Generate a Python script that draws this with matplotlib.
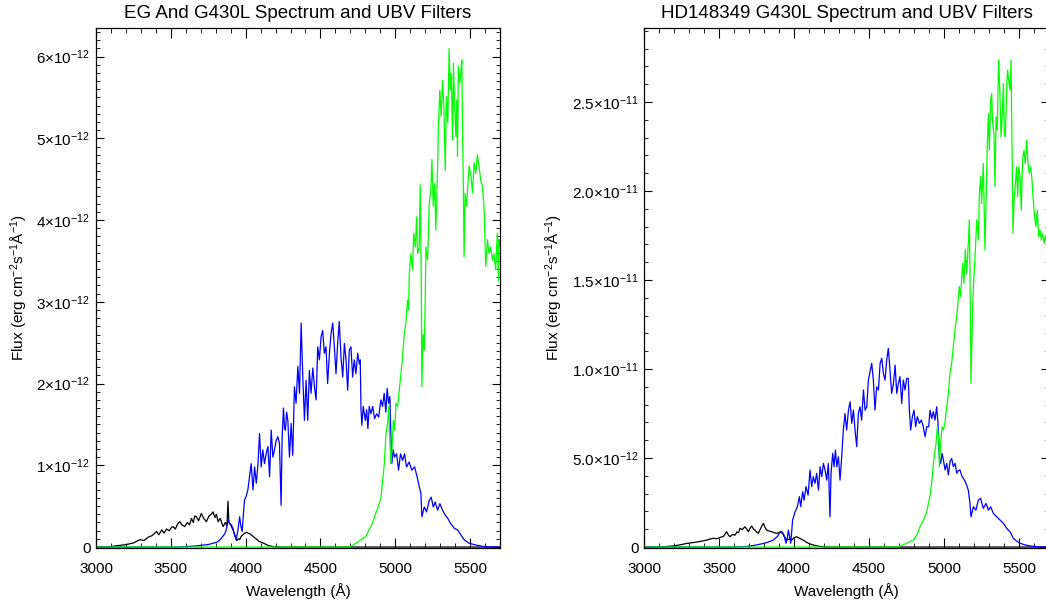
import numpy as np
import matplotlib
matplotlib.use("Agg")
import matplotlib.pyplot as plt
from matplotlib.ticker import MultipleLocator, FixedLocator, FuncFormatter

plt.rcParams['font.family'] = ['Liberation Sans', 'DejaVu Sans']
plt.rcParams['mathtext.fontset'] = 'custom'
plt.rcParams['mathtext.rm'] = 'Liberation Sans'
plt.rcParams['mathtext.it'] = 'Liberation Sans:italic'
plt.rcParams['mathtext.bf'] = 'Liberation Sans:bold'
plt.rcParams['axes.unicode_minus'] = False

SCALE = 1e-12  # fluxes below are in units of 1e-12 erg/cm2/s/A

# ---- EG And : spectrum x U, B, V filters ----
eg_u_wave = [3000, 3080, 3116, 3160, 3204, 3250, 3293, 3320, 3349, 3375, 3404, 3420, 3440, 3455,
             3471, 3490, 3505, 3516, 3530, 3545, 3560, 3575, 3593, 3610, 3625, 3638, 3650, 3660,
             3671, 3685, 3704, 3720, 3738, 3755, 3770, 3782, 3795, 3805, 3816, 3830, 3849, 3865,
             3875, 3882, 3888, 3900, 3916, 3930, 3940, 3950, 3960, 3970, 3982, 3995, 4005, 4016,
             4030, 4049, 4070, 4090, 4116, 4150, 4182, 4220, 5700]
eg_u_flux = [0, 0, 0.01, 0.02, 0.03, 0.05, 0.09, 0.08, 0.12, 0.14, 0.19, 0.15, 0.21, 0.17,
             0.22, 0.20, 0.24, 0.25, 0.22, 0.28, 0.31, 0.27, 0.25, 0.30, 0.27, 0.35, 0.30, 0.38,
             0.37, 0.32, 0.41, 0.35, 0.31, 0.38, 0.40, 0.43, 0.36, 0.40, 0.31, 0.35, 0.25, 0.30,
             0.26, 0.56, 0.30, 0.27, 0.21, 0.14, 0.08, 0.10, 0.09, 0.13, 0.15, 0.17, 0.18, 0.17,
             0.16, 0.13, 0.10, 0.07, 0.05, 0.02, 0.005, 0, 0]

eg_b_wave = [3000, 3550, 3600, 3650, 3700, 3750, 3780, 3810, 3830, 3847, 3860, 3872, 3882, 3893,
             3905, 3915, 3925, 3937, 3948, 3960, 3968, 3977, 3985, 3993, 4004, 4015, 4026, 4037,
             4049, 4060, 4071, 4082, 4093, 4104, 4115, 4126, 4138, 4149, 4160, 4171, 4182, 4193,
             4204, 4215, 4226, 4237, 4244, 4253, 4260, 4266, 4274, 4282, 4293, 4304, 4315, 4326,
             4337, 4349, 4360, 4371, 4382, 4393, 4404, 4415, 4426, 4437, 4449, 4460, 4471, 4482,
             4493, 4504, 4515, 4526, 4537, 4548, 4560, 4571, 4582, 4593, 4604, 4615, 4626, 4637,
             4649, 4660, 4671, 4682, 4693, 4704, 4715, 4726, 4737, 4749, 4760, 4766, 4771, 4777,
             4786, 4800, 4809, 4817, 4826, 4837, 4849, 4862, 4875, 4889, 4904, 4915, 4926, 4937,
             4946, 4955, 4964, 4971, 4977, 4986, 4995, 5009, 5022, 5035, 5049, 5062, 5075, 5093,
             5111, 5129, 5146, 5160, 5171, 5178, 5194, 5209, 5227, 5240, 5254, 5267, 5283, 5298,
             5316, 5334, 5351, 5369, 5394, 5416, 5438, 5460, 5494, 5538, 5594, 5650, 5700]
eg_b_flux = [0, 0, 0.005, 0.01, 0.02, 0.03, 0.045, 0.06, 0.09, 0.13, 0.16, 0.22, 0.33, 0.29,
             0.27, 0.23, 0.15, 0.09, 0.20, 0.37, 0.26, 0.19, 0.40, 0.58, 0.62, 0.70, 0.86, 1.02,
             0.70, 0.98, 0.78, 1.00, 1.39, 0.98, 1.19, 1.02, 1.15, 1.23, 0.86, 1.43, 1.10, 1.19,
             1.30, 1.35, 1.27, 0.51, 1.35, 1.70, 1.45, 1.43, 1.65, 1.55, 1.10, 1.51, 1.12, 1.96,
             1.76, 2.21, 1.88, 2.74, 2.08, 1.55, 2.04, 1.55, 2.16, 1.88, 2.19, 1.96, 1.80, 2.45,
             2.29, 2.57, 2.65, 2.37, 2.45, 2.00, 2.37, 2.61, 2.74, 2.45, 2.12, 2.49, 2.76, 2.33,
             2.08, 2.49, 2.29, 1.92, 2.41, 2.45, 2.08, 2.29, 2.12, 2.37, 2.24, 2.29, 1.68, 1.49,
             1.72, 1.55, 1.68, 1.45, 1.72, 1.63, 1.72, 1.57, 1.63, 1.59, 1.80, 1.72, 1.88, 1.65,
             1.94, 1.76, 1.84, 1.35, 1.02, 1.19, 1.10, 1.14, 0.94, 1.14, 1.06, 1.14, 0.98, 1.04,
             0.94, 0.98, 0.86, 0.74, 0.66, 0.37, 0.49, 0.43, 0.57, 0.61, 0.49, 0.55, 0.45, 0.53,
             0.45, 0.39, 0.35, 0.29, 0.23, 0.21, 0.15, 0.09, 0.045, 0.025, 0.004, 0, 0]

eg_v_wave = [3000, 4690, 4715, 4737, 4771, 4804, 4827, 4837, 4855, 4871, 4893, 4905, 4915, 4927,
             4938, 4949, 4956, 4965, 4971, 4978, 4987, 4996, 5005, 5016, 5027, 5038, 5049, 5060,
             5071, 5082, 5089, 5094, 5105, 5116, 5123, 5134, 5143, 5149, 5160, 5167, 5174, 5178,
             5186, 5194, 5200, 5205, 5216, 5227, 5238, 5245, 5254, 5263, 5271, 5283, 5289, 5298,
             5307, 5316, 5325, 5334, 5342, 5351, 5360, 5367, 5374, 5383, 5389, 5396, 5405, 5411,
             5416, 5422, 5431, 5438, 5445, 5449, 5456, 5460, 5467, 5476, 5485, 5494, 5505, 5516,
             5527, 5538, 5549, 5560, 5571, 5583, 5594, 5605, 5616, 5627, 5638, 5649, 5660, 5671,
             5682, 5690, 5693, 5700]
eg_v_flux = [0, 0, 0.02, 0.045, 0.09, 0.13, 0.22, 0.25, 0.33, 0.42, 0.53, 0.61, 0.80, 1.02,
             1.39, 1.51, 1.72, 1.23, 1.02, 1.19, 1.55, 1.43, 1.76, 1.72, 1.92, 2.12, 2.33, 2.61,
             2.74, 3.02, 2.90, 3.35, 3.59, 3.39, 3.84, 3.67, 4.04, 3.59, 3.67, 4.43, 3.23, 1.96,
             2.60, 2.41, 3.00, 3.67, 3.51, 4.21, 4.37, 4.74, 4.17, 4.45, 3.88, 4.66, 5.19, 5.59,
             5.27, 5.71, 5.39, 4.61, 5.51, 5.19, 6.10, 5.59, 5.80, 4.98, 5.92, 5.47, 5.02, 5.47,
             4.78, 5.88, 5.67, 5.80, 5.96, 5.19, 4.25, 3.55, 4.33, 4.17, 4.41, 4.66, 4.57, 4.33,
             4.70, 4.57, 4.80, 4.66, 4.49, 4.41, 4.12, 3.43, 3.76, 3.59, 3.67, 3.51, 3.59, 3.39,
             3.84, 3.26, 3.76, 3.70]

# ---- HD148349 : spectrum x U, B, V filters ----
hd_u_wave = [3000, 3100, 3150, 3196, 3240, 3284, 3320, 3351, 3385, 3418, 3440, 3462, 3485, 3507,
             3530, 3551, 3562, 3573, 3590, 3607, 3620, 3630, 3640, 3655, 3673, 3685, 3696, 3707,
             3718, 3730, 3740, 3750, 3762, 3775, 3787, 3796, 3807, 3818, 3835, 3851, 3868, 3884,
             3900, 3918, 3935, 3951, 3968, 3984, 4000, 4018, 4035, 4051, 4068, 4084, 4105, 4129,
             4160, 4195, 4230, 5700]
hd_u_flux = [0, 0, 0.03, 0.06, 0.12, 0.20, 0.24, 0.28, 0.33, 0.39, 0.45, 0.49, 0.46, 0.54,
             0.60, 0.86, 0.68, 0.58, 0.70, 0.67, 0.85, 0.80, 1.05, 0.98, 1.14, 1.00, 0.86, 1.05,
             1.18, 1.00, 0.95, 0.85, 0.77, 1.00, 1.20, 1.33, 1.10, 0.95, 0.90, 0.86, 0.80, 0.77,
             0.80, 0.86, 0.60, 0.39, 0.45, 0.39, 0.52, 0.58, 0.50, 0.43, 0.35, 0.26, 0.18, 0.11,
             0.05, 0.01, 0, 0]

hd_b_wave = [3000, 3550, 3620, 3684, 3740, 3796, 3830, 3862, 3890, 3907, 3918, 3929, 3947, 3955,
             3963, 3970, 3978, 3991, 4007, 4023, 4036, 4045, 4058, 4067, 4080, 4094, 4107, 4118,
             4129, 4140, 4151, 4163, 4174, 4185, 4196, 4207, 4218, 4229, 4240, 4247, 4258, 4267,
             4276, 4285, 4296, 4307, 4318, 4329, 4340, 4351, 4363, 4374, 4385, 4396, 4407, 4418,
             4429, 4440, 4451, 4463, 4474, 4485, 4496, 4507, 4518, 4529, 4540, 4551, 4563, 4574,
             4585, 4596, 4607, 4618, 4629, 4640, 4651, 4663, 4674, 4685, 4696, 4707, 4718, 4729,
             4740, 4751, 4762, 4769, 4778, 4789, 4800, 4811, 4822, 4836, 4849, 4862, 4874, 4885,
             4898, 4907, 4918, 4929, 4940, 4951, 4960, 4969, 4978, 4987, 4996, 5007, 5018, 5029,
             5040, 5051, 5062, 5074, 5085, 5096, 5107, 5118, 5129, 5140, 5151, 5162, 5173, 5180,
             5196, 5213, 5229, 5244, 5262, 5280, 5296, 5311, 5329, 5351, 5373, 5396, 5418, 5440,
             5462, 5485, 5507, 5540, 5573, 5640, 5700]
hd_b_flux = [0, 0, 0.01, 0.03, 0.10, 0.20, 0.28, 0.39, 0.60, 0.86, 0.80, 0.77, 0.21, 0.50,
             0.95, 0.60, 0.21, 1.52, 1.98, 2.27, 2.83, 2.27, 3.11, 2.64, 3.39, 2.92, 4.33, 3.39,
             3.95, 3.58, 4.14, 3.20, 4.51, 3.95, 4.70, 4.33, 3.76, 4.70, 1.70, 4.14, 5.26, 4.51,
             5.45, 4.51, 5.07, 3.76, 5.07, 6.57, 7.50, 6.57, 7.69, 8.16, 6.95, 7.69, 6.57, 5.64,
             7.50, 7.88, 7.13, 8.82, 7.69, 7.88, 9.38, 9.85, 10.32, 9.38, 7.69, 9.00, 8.82, 10.32,
             10.60, 9.76, 9.38, 10.51, 11.16, 9.94, 8.63, 9.19, 10.22, 8.63, 9.19, 9.57, 8.07, 9.38,
             8.82, 9.47, 9.47, 7.69, 6.57, 7.32, 7.69, 6.76, 7.32, 6.95, 7.13, 6.76, 6.20, 6.76,
             6.76, 7.69, 7.22, 7.60, 7.13, 7.88, 6.95, 5.07, 4.70, 5.26, 4.89, 4.33, 4.70, 4.05,
             4.79, 4.98, 4.51, 4.70, 4.14, 4.30, 4.33, 4.00, 3.86, 3.70, 3.48, 3.20, 2.45, 1.70,
             2.26, 2.07, 2.64, 2.73, 2.17, 2.45, 2.07, 2.26, 1.89, 1.70, 1.52, 1.33, 1.05, 0.86,
             0.49, 0.33, 0.21, 0.12, 0.06, 0, 0]

hd_v_wave = [3000, 4696, 4720, 4751, 4796, 4820, 4840, 4862, 4885, 4905, 4918, 4934, 4947, 4956,
             4965, 4969, 4978, 4987, 4996, 5007, 5018, 5029, 5040, 5051, 5062, 5073, 5085, 5096,
             5102, 5111, 5124, 5133, 5142, 5151, 5162, 5169, 5175, 5180, 5186, 5191, 5196, 5207,
             5218, 5229, 5236, 5244, 5251, 5262, 5273, 5280, 5289, 5296, 5302, 5311, 5318, 5324,
             5333, 5340, 5347, 5355, 5364, 5373, 5380, 5387, 5396, 5402, 5409, 5418, 5424, 5431,
             5440, 5447, 5451, 5455, 5460, 5467, 5475, 5484, 5491, 5498, 5507, 5515, 5524, 5533,
             5542, 5551, 5560, 5569, 5578, 5587, 5595, 5604, 5613, 5622, 5631, 5640, 5649, 5658,
             5667, 5675, 5690, 5700]
hd_v_flux = [0, 0, 0.10, 0.21, 0.39, 0.70, 1.14, 1.50, 1.98, 2.80, 3.60, 5.07, 5.82, 6.76,
             6.01, 4.51, 5.82, 6.76, 6.57, 7.00, 7.88, 8.60, 9.76, 10.30, 11.25, 12.20, 13.00, 13.97,
             14.63, 14.07, 15.94, 14.82, 16.69, 15.37, 17.06, 18.38, 14.07, 9.20, 11.50, 13.30, 14.63, 16.31,
             18.38, 17.25, 19.87, 20.80, 19.30, 21.55, 16.69, 19.30, 22.68, 24.36, 22.30, 25.11, 25.48, 23.80,
             23.24, 20.24, 24.17, 23.43, 27.36, 25.48, 23.05, 23.99, 26.05, 23.24, 23.05, 25.86, 26.80, 26.24,
             25.67, 27.36, 24.17, 21.55, 17.63, 19.49, 20.24, 21.36, 19.68, 21.36, 20.80, 18.93, 21.74, 22.30,
             21.55, 22.86, 21.55, 20.99, 21.36, 20.61, 19.49, 18.55, 17.99, 18.93, 17.44, 17.81, 17.25, 17.63,
             17.06, 17.44, 17.00, 17.20]

wave_ticks = [3000, 3500, 4000, 4500, 5000, 5500]
eg_flux_ticks = [0, 1, 2, 3, 4, 5, 6]
hd_flux_ticks = [0, 5, 10, 15, 20, 25]


def sci_label(decimals):
    def fmt(v, pos):
        if abs(v) < 1e-20:
            return '0'
        exp = int(np.floor(np.log10(abs(v)) + 1e-9))
        mant = v / 10.0**exp
        return '%.*f×10$^{%d}$' % (decimals, mant, exp)
    return FuncFormatter(fmt)


def spectrum_panel(ax, title, curves, ymax, yticks, minor, decimals):
    for wave, flux, color in curves:
        ax.plot(wave, np.array(flux) * SCALE, color=color, lw=0.9)
    ax.set_xlim(3000, 5700)
    ax.set_ylim(-ymax * 0.0019, ymax)
    ax.xaxis.set_major_locator(FixedLocator(wave_ticks))
    ax.xaxis.set_minor_locator(MultipleLocator(100))
    ax.yaxis.set_major_locator(FixedLocator([t * SCALE for t in yticks]))
    ax.yaxis.set_minor_locator(MultipleLocator(minor))
    ax.yaxis.set_major_formatter(sci_label(decimals))
    ax.tick_params(which='both', direction='in', top=True, right=True, labelsize=11)
    ax.tick_params(axis='x', which='major', length=7.5, pad=10)
    ax.tick_params(axis='x', which='minor', length=3.7)
    ax.tick_params(axis='y', which='major', length=5.8, pad=4)
    ax.tick_params(axis='y', which='minor', length=2.9)
    for sp in ax.spines.values():
        sp.set_linewidth(0.9)
    ax.set_title(title, fontsize=13.5, pad=7.5)
    ax.set_xlabel('Wavelength (Å)', fontsize=11)
    ax.set_ylabel('Flux (erg cm$^{-2}$s$^{-1}$Å$^{-1}$)', fontsize=11)


fig = plt.figure(figsize=(10.46, 6.04), dpi=100)
ax1 = fig.add_axes([96 / 1046, 56 / 604, 404 / 1046, 520 / 604])
ax2 = fig.add_axes([644 / 1046, 56 / 604, 405 / 1046, 520 / 604])

spectrum_panel(ax1, 'EG And G430L Spectrum and UBV Filters',
               [(eg_u_wave, eg_u_flux, 'black'),
                (eg_b_wave, eg_b_flux, '#0000ff'),
                (eg_v_wave, eg_v_flux, '#00ff00')],
               6.35e-12, eg_flux_ticks, 1e-13, 0)
spectrum_panel(ax2, 'HD148349 G430L Spectrum and UBV Filters',
               [(hd_u_wave, hd_u_flux, 'black'),
                (hd_b_wave, hd_b_flux, '#0000ff'),
                (hd_v_wave, hd_v_flux, '#00ff00')],
               2.916e-11, hd_flux_ticks, 1e-12, 1)

ax1.xaxis.set_label_coords(0.5, -0.068)
ax2.xaxis.set_label_coords(0.5, -0.068)
ax1.yaxis.set_label_coords(-0.163, 0.5)
ax2.yaxis.set_label_coords(-0.195, 0.5)

fig.savefig('out.png', dpi=100)
